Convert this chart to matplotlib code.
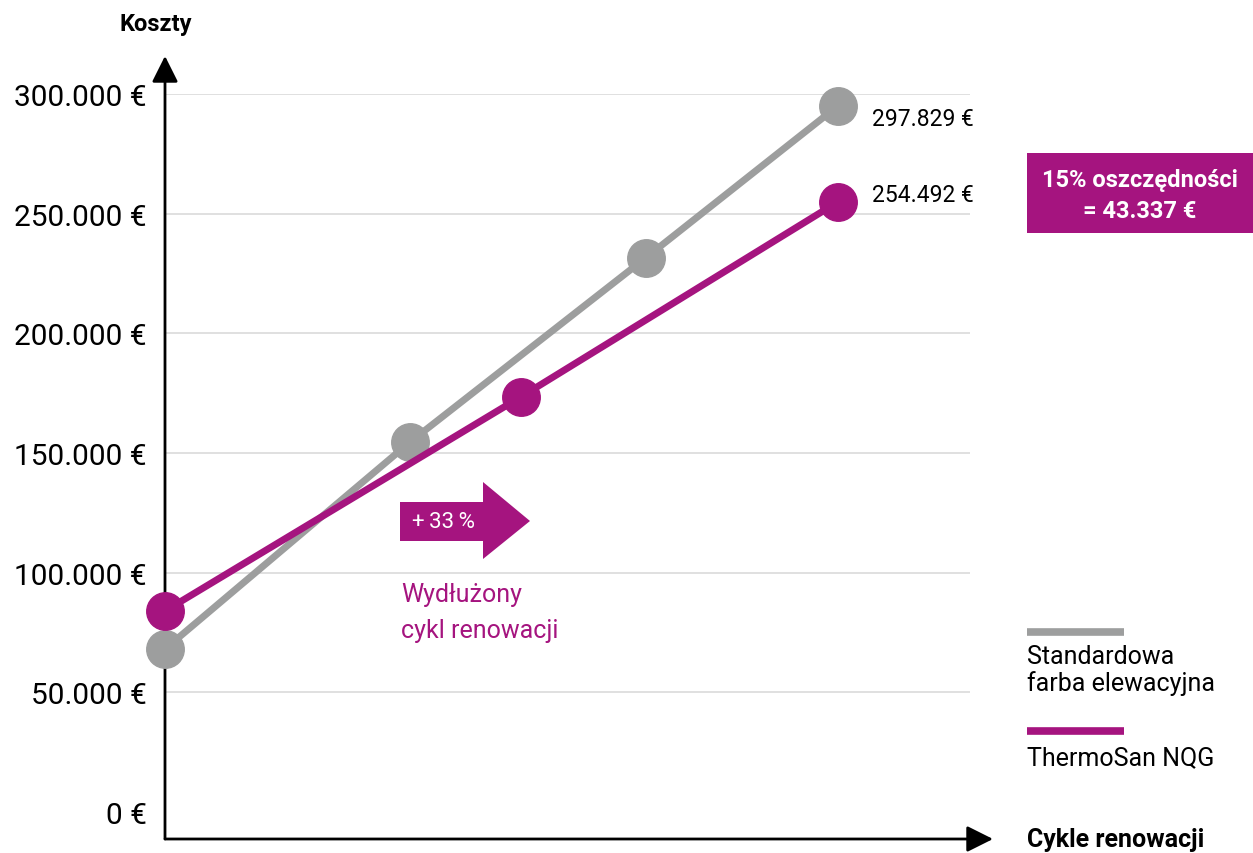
"""Koszty renowacji elewacji: farba standardowa vs ThermoSan NQG."""

import matplotlib
import matplotlib.pyplot as plt
from matplotlib.lines import Line2D
from matplotlib.patches import Polygon, Rectangle

matplotlib.use("Agg")
plt.rcParams["font.family"] = ["Roboto", "DejaVu Sans"]

# dane (x = lata, y = koszty w €)
lata_standard = [0, 10.2, 20, 28]
koszty_standard = [68100, 154600, 231500, 295000]
lata_thermosan = [0, 14.8, 28]
koszty_thermosan = [84000, 173400, 254900]

poziomy_y = [0, 50000, 100000, 150000, 200000, 250000, 300000]
etykieta_standard = "297.829 €"
etykieta_thermosan = "254.492 €"
oszczednosci = ["15% oszczędności", "= 43.337 €"]

SZARY = "#9d9e9e"
FIOLET = "#a5147f"
SIATKA = "#dadada"

W, H = 1253, 854


def px(x, y):
    """Piksele obrazu -> ułamek figury."""
    return x / W, 1 - y / H


fig = plt.figure(figsize=(W / 100, H / 100), dpi=100)
left, right, top, bottom = 165, 970, 95, 840
ax = fig.add_axes([left / W, 1 - bottom / H, (right - left) / W, (bottom - top) / H])

ax.set_xlim(0, 33.5)
ax.set_ylim(-11280, 300000)
for s in ax.spines.values():
    s.set_visible(False)

# linie siatki (bez linii na 0)
for v in poziomy_y[1:]:
    ax.axhline(v, color=SIATKA, lw=1.2, zorder=1)

ax.set_xticks([])
ax.set_yticks(poziomy_y)
ax.set_yticklabels([f"{v:,}".replace(",", ".") + " €" for v in poziomy_y], fontsize=21.5)
ax.tick_params(axis="y", length=0, pad=13)

# osie ze strzałkami
strzalka = dict(arrowstyle="-|>,head_length=0.8,head_width=0.4", lw=2,
                color="black", shrinkA=0, shrinkB=0, mutation_scale=20)
ax.annotate("", xy=(0, 1 + 38 / 745), xytext=(0, 0), xycoords="axes fraction",
            arrowprops=strzalka, annotation_clip=False)
ax.annotate("", xy=(1 + 23 / 805, 0), xytext=(0, 0), xycoords="axes fraction",
            arrowprops=strzalka, annotation_clip=False)

# serie
ax.plot(lata_standard, koszty_standard, color=SZARY, lw=5, marker="o",
        markersize=27, clip_on=False, zorder=3)
ax.plot(lata_thermosan, koszty_thermosan, color=FIOLET, lw=5, marker="o",
        markersize=27, clip_on=False, zorder=4)

# etykiety wartości końcowych
fig.text(*px(872, 119), etykieta_standard, fontsize=16.5, va="center", ha="left")
fig.text(*px(872, 195), etykieta_thermosan, fontsize=16.5, va="center", ha="left")

# opisy osi
fig.text(*px(156, 25), "Koszty", fontsize=17, fontweight="bold", ha="center", va="center")
fig.text(*px(1027, 840), "Cykle renowacji", fontsize=18, fontweight="bold",
         ha="left", va="center")

# ramka z oszczędnościami
x0, y0 = px(1027, 234)
x1, y1 = px(1253, 154)
fig.add_artist(Rectangle((x0, y0), x1 - x0, y1 - y0, transform=fig.transFigure,
                         facecolor=FIOLET, edgecolor="none"))
fig.text(*px(1140, 180), oszczednosci[0], fontsize=17, fontweight="bold",
         color="white", ha="center", va="center")
fig.text(*px(1140, 212), oszczednosci[1], fontsize=17, fontweight="bold",
         color="white", ha="center", va="center")

# strzałka +33 %
ksztalt = [px(400, 503), px(483, 503), px(483, 483), px(530, 522),
           px(483, 560), px(483, 542), px(400, 542)]
fig.add_artist(Polygon(ksztalt, closed=True, transform=fig.transFigure,
                       facecolor=FIOLET, edgecolor="none"))
fig.text(*px(412, 523), "+\u200933\u2009%", fontsize=16, color="white", ha="left", va="center")
fig.text(*px(401, 602), "Wydłużony", fontsize=18, color=FIOLET, ha="left", va="baseline")
fig.text(*px(401, 638), "cykl renowacji", fontsize=18, color=FIOLET, ha="left", va="baseline")

# legenda
for y, kolor in [(633, SZARY), (732, FIOLET)]:
    xa, ya = px(1027, y)
    xb, _ = px(1124, y)
    fig.add_artist(Line2D([xa, xb], [ya, ya], transform=fig.transFigure,
                          color=kolor, lw=5.5, solid_capstyle="butt"))
fig.text(*px(1027, 657), "Standardowa", fontsize=18, ha="left", va="center")
fig.text(*px(1027, 684), "farba elewacyjna", fontsize=18, ha="left", va="center")
fig.text(*px(1027, 758), "ThermoSan NQG", fontsize=18, ha="left", va="center")

fig.savefig("out.png", dpi=100)
plt.close(fig)
